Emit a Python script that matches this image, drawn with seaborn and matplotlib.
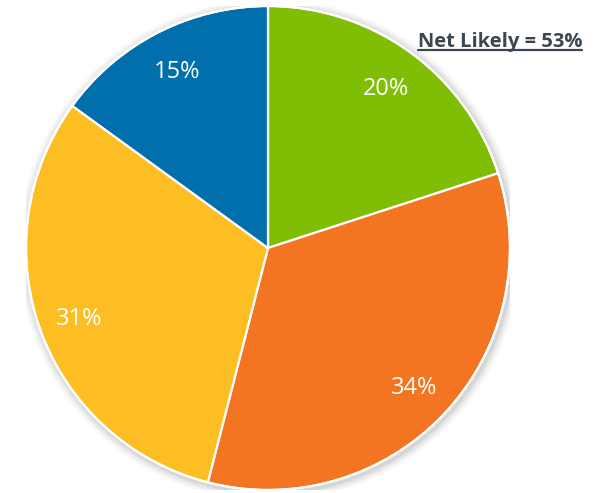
import matplotlib
matplotlib.use("Agg")
import matplotlib.pyplot as plt
import seaborn as sns
from matplotlib.patches import Circle
from matplotlib.lines import Line2D

sns.set_theme(style="white")
plt.rcParams["font.family"] = ["Open Sans", "DejaVu Sans"]

# Response shares, clockwise from 12 o'clock
segments = ["Very likely", "Somewhat unlikely", "Somewhat likely", "Very unlikely"]
shares = [20, 34, 31, 15]
colors = ["#80BE06", "#F47521", "#FDBE24", "#006FAC"]
net_label = "Net Likely = 53%"

W, H = 596, 493
fig = plt.figure(figsize=(W / 100, H / 100), dpi=100)
cx, cy, R = 268, 248, 242
ax = fig.add_axes([(cx - R) / W, (H - cy - R) / H, 2 * R / W, 2 * R / H])

# soft drop shadow under the pie
for r, a in [(1.04, 0.03), (1.032, 0.05), (1.024, 0.07), (1.016, 0.09), (1.009, 0.12)]:
    ax.add_patch(Circle((0.007, -0.008), r, color="#808080", alpha=a, lw=0, zorder=0))

wedges, texts, autotexts = ax.pie(
    shares,
    colors=colors,
    startangle=90,
    counterclock=False,
    autopct=lambda p: f"{p:.0f}%",
    pctdistance=0.83,
    wedgeprops=dict(edgecolor="white", linewidth=1.6),
    textprops=dict(color="white", fontsize=17),
)
for w in wedges:
    w.set_zorder(2)
for t in autotexts:
    t.set_zorder(3)
    t.set_va("center_baseline")
ax.add_patch(Circle((0, 0), 1.0, fill=False, ec="white", lw=1.6, zorder=2.5))
ax.set_xlim(-1, 1)
ax.set_ylim(-1, 1)
ax.set_axis_off()

# headline with underline
txt = fig.text(582 / W, 1 - 47 / H, net_label, ha="right", va="baseline",
               fontsize=14.5, fontweight="bold", color="#3C4651")
fig.canvas.draw()
bb = txt.get_window_extent()
yl = 1 - 50 / H
fig.add_artist(Line2D([bb.x0 / W, bb.x1 / W], [yl, yl], transform=fig.transFigure,
                      color="#3C4651", lw=1.6))

fig.savefig("out.png", dpi=100)
